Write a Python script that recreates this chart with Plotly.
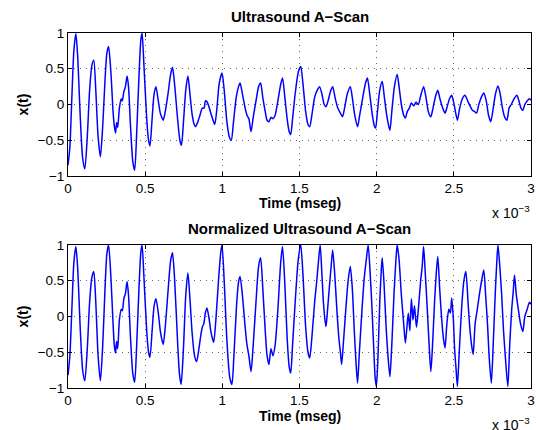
import plotly.graph_objects as go
from plotly.subplots import make_subplots

# (time in units of 1e-3, amplitude)
top_points = [
    (0.000, -0.85), (0.012, -0.60), (0.025, 0.10), (0.038, 0.75), (0.051, 0.99), (0.062, 0.70),
    (0.080, -0.20), (0.095, -0.75), (0.109, -0.90), (0.125, -0.45), (0.140, 0.20), (0.155, 0.55),
    (0.167, 0.62), (0.180, 0.20), (0.195, -0.45), (0.210, -0.73), (0.225, -0.30), (0.240, 0.35),
    (0.252, 0.72), (0.263, 0.81), (0.278, 0.45), (0.292, -0.10), (0.300, -0.30), (0.308, -0.40),
    (0.315, -0.25), (0.322, -0.32), (0.333, -0.05), (0.345, 0.08), (0.352, 0.05), (0.362, 0.18),
    (0.372, 0.25), (0.383, 0.40), (0.392, 0.25), (0.405, -0.30), (0.420, -0.80), (0.432, -0.92),
    (0.445, -0.40), (0.460, 0.40), (0.472, 0.90), (0.480, 1.00), (0.492, 0.55), (0.510, -0.20),
    (0.522, -0.50), (0.531, -0.58), (0.545, -0.20), (0.558, 0.15), (0.570, 0.25), (0.585, 0.05),
    (0.598, -0.12), (0.608, -0.18), (0.617, -0.22), (0.630, -0.10), (0.648, 0.15), (0.665, 0.42),
    (0.677, 0.52), (0.690, 0.30), (0.710, -0.20), (0.725, -0.50), (0.735, -0.57), (0.748, -0.25),
    (0.763, 0.20), (0.777, 0.40), (0.790, 0.15), (0.805, -0.15), (0.818, -0.28), (0.827, -0.31),
    (0.840, -0.25), (0.855, -0.15), (0.870, -0.05), (0.882, -0.05), (0.890, 0.05), (0.900, 0.04),
    (0.912, -0.02), (0.925, -0.12), (0.940, -0.22), (0.951, -0.28), (0.965, -0.05), (0.980, 0.30),
    (0.998, 0.44), (1.012, 0.20), (1.030, -0.25), (1.045, -0.45), (1.058, -0.50), (1.072, -0.25),
    (1.090, 0.10), (1.105, 0.25), (1.115, 0.30), (1.130, 0.15), (1.148, -0.05), (1.160, -0.15),
    (1.172, -0.20), (1.186, -0.38), (1.200, -0.18), (1.218, 0.05), (1.235, 0.25), (1.248, 0.30),
    (1.262, 0.10), (1.278, -0.10), (1.290, -0.22), (1.302, -0.24), (1.315, -0.18), (1.328, -0.20),
    (1.342, -0.15), (1.360, 0.05), (1.378, 0.28), (1.390, 0.37), (1.405, 0.10), (1.420, -0.20),
    (1.433, -0.38), (1.443, -0.42), (1.455, -0.20), (1.472, 0.15), (1.492, 0.45), (1.508, 0.53),
    (1.522, 0.30), (1.540, -0.10), (1.555, -0.28), (1.566, -0.31), (1.580, -0.15), (1.598, 0.10),
    (1.615, 0.20), (1.630, 0.25), (1.645, 0.15), (1.660, 0.00), (1.672, -0.03), (1.685, 0.05),
    (1.700, 0.18), (1.715, 0.25), (1.730, 0.10), (1.748, -0.05), (1.765, -0.12), (1.779, -0.17),
    (1.792, -0.05), (1.810, 0.15), (1.829, 0.25), (1.842, 0.10), (1.858, -0.15), (1.876, -0.31),
    (1.890, -0.15), (1.910, 0.10), (1.928, 0.30), (1.940, 0.37), (1.955, 0.15), (1.972, -0.15),
    (1.985, -0.30), (1.993, -0.33), (2.005, -0.10), (2.020, 0.20), (2.036, 0.32), (2.050, 0.10),
    (2.065, -0.15), (2.078, -0.30), (2.086, -0.36), (2.098, -0.10), (2.115, 0.25), (2.133, 0.42),
    (2.145, 0.25), (2.160, 0.00), (2.175, -0.15), (2.186, -0.19), (2.198, -0.10), (2.212, -0.05),
    (2.225, 0.02), (2.240, -0.02), (2.255, 0.03), (2.270, 0.00), (2.285, 0.12), (2.304, 0.25),
    (2.318, 0.12), (2.335, -0.10), (2.351, -0.17), (2.365, -0.05), (2.382, 0.12), (2.396, 0.20),
    (2.410, 0.08), (2.428, -0.05), (2.443, -0.12), (2.458, -0.02), (2.472, 0.08), (2.486, 0.13),
    (2.500, 0.02), (2.512, -0.12), (2.523, -0.22), (2.538, -0.05), (2.555, 0.08), (2.572, 0.13),
    (2.590, 0.05), (2.605, -0.02), (2.620, -0.08), (2.635, -0.10), (2.647, -0.12), (2.662, 0.00),
    (2.678, 0.10), (2.694, 0.16), (2.710, 0.05), (2.725, -0.15), (2.739, -0.24), (2.752, -0.10),
    (2.770, 0.15), (2.786, 0.26), (2.800, 0.15), (2.815, -0.05), (2.830, -0.18), (2.844, -0.22),
    (2.858, -0.05), (2.872, 0.00), (2.890, 0.08), (2.908, 0.13), (2.922, 0.05), (2.935, -0.05),
    (2.947, -0.08), (2.960, 0.00), (2.975, 0.05), (2.990, 0.08), (3.000, 0.06),
]

norm_points = [
    (0.000, -0.82), (0.012, -0.55), (0.025, 0.10), (0.038, 0.75), (0.051, 0.98), (0.062, 0.70),
    (0.080, -0.20), (0.095, -0.75), (0.109, -0.90), (0.125, -0.45), (0.140, 0.20), (0.155, 0.55),
    (0.167, 0.63), (0.180, 0.20), (0.195, -0.55), (0.210, -0.90), (0.225, -0.40), (0.240, 0.40),
    (0.252, 0.88), (0.263, 1.00), (0.278, 0.55), (0.292, -0.10), (0.300, -0.40), (0.308, -0.51),
    (0.315, -0.35), (0.322, -0.45), (0.333, -0.05), (0.345, 0.10), (0.352, 0.08), (0.362, 0.25),
    (0.372, 0.32), (0.383, 0.49), (0.392, 0.30), (0.405, -0.30), (0.420, -0.80), (0.432, -0.92),
    (0.445, -0.40), (0.460, 0.40), (0.472, 0.90), (0.480, 1.00), (0.492, 0.55), (0.510, -0.20),
    (0.522, -0.50), (0.531, -0.57), (0.545, -0.20), (0.558, 0.15), (0.570, 0.25), (0.585, 0.05),
    (0.598, -0.20), (0.608, -0.32), (0.617, -0.39), (0.630, -0.15), (0.648, 0.35), (0.665, 0.78),
    (0.677, 0.89), (0.690, 0.55), (0.710, -0.35), (0.722, -0.80), (0.733, -0.95), (0.748, -0.45),
    (0.763, 0.30), (0.777, 0.61), (0.790, 0.25), (0.805, -0.25), (0.820, -0.55), (0.833, -0.63),
    (0.845, -0.50), (0.858, -0.30), (0.870, -0.15), (0.880, -0.10), (0.890, 0.05), (0.900, 0.12),
    (0.912, 0.00), (0.925, -0.20), (0.935, -0.30), (0.944, -0.36), (0.958, -0.05), (0.975, 0.50),
    (0.990, 0.90), (0.998, 1.00), (1.012, 0.50), (1.030, -0.35), (1.048, -0.85), (1.062, -0.95),
    (1.075, -0.55), (1.092, 0.15), (1.105, 0.48), (1.115, 0.56), (1.130, 0.30), (1.148, -0.15),
    (1.160, -0.40), (1.172, -0.55), (1.186, -0.77), (1.200, -0.40), (1.218, 0.20), (1.235, 0.70),
    (1.248, 0.82), (1.262, 0.40), (1.278, -0.20), (1.290, -0.55), (1.302, -0.67), (1.315, -0.45),
    (1.328, -0.55), (1.342, -0.40), (1.360, 0.10), (1.378, 0.75), (1.390, 0.98), (1.405, 0.45),
    (1.420, -0.30), (1.433, -0.70), (1.443, -0.79), (1.455, -0.40), (1.472, 0.20), (1.492, 0.80),
    (1.508, 1.00), (1.522, 0.60), (1.540, -0.15), (1.555, -0.50), (1.566, -0.58), (1.580, -0.30),
    (1.598, 0.20), (1.612, 0.50), (1.622, 0.75), (1.634, 1.00), (1.645, 0.60), (1.655, 0.20),
    (1.665, -0.05), (1.672, -0.14), (1.682, 0.10), (1.695, 0.45), (1.705, 0.70), (1.715, 0.93),
    (1.728, 0.60), (1.742, 0.10), (1.755, -0.30), (1.765, -0.50), (1.773, -0.67), (1.785, -0.35),
    (1.800, 0.10), (1.815, 0.50), (1.829, 0.70), (1.842, 0.40), (1.855, -0.20), (1.865, -0.60),
    (1.876, -0.93), (1.888, -0.50), (1.905, 0.10), (1.920, 0.55), (1.933, 0.80), (1.945, 1.00),
    (1.958, 0.60), (1.970, 0.10), (1.982, -0.50), (1.990, -0.85), (1.998, -0.98), (2.008, -0.60),
    (2.020, 0.20), (2.030, 0.65), (2.036, 0.82), (2.048, 0.45), (2.060, -0.10), (2.075, -0.60),
    (2.086, -0.84), (2.098, -0.40), (2.112, 0.30), (2.125, 0.80), (2.133, 1.00), (2.145, 0.80),
    (2.160, 0.30), (2.175, -0.10), (2.186, -0.37), (2.196, -0.15), (2.205, 0.05), (2.215, -0.20),
    (2.225, 0.25), (2.235, -0.05), (2.245, 0.15), (2.258, -0.15), (2.270, 0.10), (2.285, 0.50),
    (2.295, 0.70), (2.304, 0.98), (2.315, 0.60), (2.328, 0.10), (2.340, -0.40), (2.351, -0.77),
    (2.362, -0.40), (2.375, 0.20), (2.386, 0.60), (2.396, 0.84), (2.408, 0.40), (2.420, 0.00),
    (2.432, -0.30), (2.443, -0.44), (2.455, -0.10), (2.468, 0.10), (2.478, 0.05), (2.486, 0.26),
    (2.496, 0.00), (2.505, -0.45), (2.515, -0.75), (2.523, -0.98), (2.535, -0.50), (2.550, 0.10),
    (2.565, 0.50), (2.578, 0.63), (2.592, 0.20), (2.605, -0.20), (2.615, -0.40), (2.625, -0.53),
    (2.638, -0.10), (2.652, 0.10), (2.665, 0.30), (2.680, 0.50), (2.694, 0.65), (2.706, 0.30),
    (2.718, -0.10), (2.730, -0.60), (2.743, -0.93), (2.755, -0.40), (2.768, 0.30), (2.778, 0.75),
    (2.786, 1.00), (2.798, 0.70), (2.810, 0.30), (2.822, -0.20), (2.835, -0.60), (2.850, -0.98),
    (2.862, -0.40), (2.875, 0.10), (2.885, 0.35), (2.893, 0.58), (2.905, 0.30), (2.918, 0.10),
    (2.932, -0.10), (2.947, -0.21), (2.960, 0.00), (2.975, 0.10), (2.990, 0.20), (3.000, 0.17),
]

x_tickvals = [0, 0.5, 1, 1.5, 2, 2.5, 3]
x_ticktext = ["0", "0.5", "1", "1.5", "2", "2.5", "3"]
y_tickvals = [-1, -0.5, 0, 0.5, 1]
y_ticktext = ["\u22121", "\u22120.5", "0", "0.5", "1"]
titles = ["Ultrasound A\u2212Scan", "Normalized Ultrasound A\u2212Scan"]
x_label = "Time (mseg)"
y_label = "x(t)"

FONT = "Liberation Sans, Arial, Helvetica, sans-serif"
W, H = 536, 430
ML, MR, MT, MB = 68, 1, 33, 42
plot_h = H - MT - MB
ax_h = 143 / plot_h

fig = make_subplots(rows=2, cols=1, vertical_spacing=1 - 2 * ax_h)

for i, pts in enumerate([top_points, norm_points]):
    t = [p[0] for p in pts]
    v = [p[1] for p in pts]
    fig.add_trace(go.Scatter(x=t, y=v, mode="lines",
                             line=dict(color="#0000ff", width=1.5, shape="spline", smoothing=0.7),
                             showlegend=False, cliponaxis=True), row=i + 1, col=1)

axis_common = dict(showline=True, linecolor="black", linewidth=1, mirror="ticks",
                   ticks="inside", ticklen=4, tickcolor="black",
                   showgrid=True, gridcolor="#666666", griddash="1px,5px", gridwidth=1,
                   zeroline=False, ticklabeloverflow="allow",
                   tickfont=dict(family=FONT, size=13.5, color="black"))

for r in (1, 2):
    fig.update_xaxes(range=[0, 3], tickvals=x_tickvals, ticktext=x_ticktext,
                     **axis_common, row=r, col=1)
    fig.update_yaxes(range=[-1, 1], tickvals=y_tickvals, ticktext=y_ticktext,
                     **axis_common, row=r, col=1)

fig.update_layout(width=W, height=H, margin=dict(l=ML, r=MR, t=MT, b=MB),
                  paper_bgcolor="white", plot_bgcolor="white",
                  font=dict(family=FONT, size=14, color="black"))


def px_to_paper_y(py):
    return 1 - (py - MT) / plot_h


def px_to_paper_x(px):
    return (px - ML) / (W - ML - MR)


title_pos = [16.5, 228.5]
xlabel_pos = [203, 416]
exp_pos = [212, 424]
ylabel_pos = [104, 316]
anns = []
for k in range(2):
    anns.append(dict(text="<b>%s</b>" % titles[k], x=px_to_paper_x(301.5), y=px_to_paper_y(title_pos[k]),
                     xref="paper", yref="paper", showarrow=False, xanchor="center", yanchor="middle",
                     font=dict(family=FONT, size=15, color="black")))
    anns.append(dict(text="<b>%s</b>" % x_label, x=px_to_paper_x(302), y=px_to_paper_y(xlabel_pos[k]),
                     xref="paper", yref="paper", showarrow=False, xanchor="center", yanchor="middle",
                     font=dict(family=FONT, size=14, color="black")))
    anns.append(dict(text="x 10<sup>\u22123</sup>", x=px_to_paper_x(494), y=px_to_paper_y(exp_pos[k]),
                     xref="paper", yref="paper", showarrow=False, xanchor="left", yanchor="middle",
                     font=dict(family=FONT, size=14, color="black")))
    anns.append(dict(text="<b>%s</b>" % y_label, x=px_to_paper_x(23), y=px_to_paper_y(ylabel_pos[k]),
                     xref="paper", yref="paper", showarrow=False, xanchor="center", yanchor="middle",
                     textangle=-90, font=dict(family=FONT, size=14, color="black")))

fig.update_layout(annotations=anns)
fig.write_html("out.html")
